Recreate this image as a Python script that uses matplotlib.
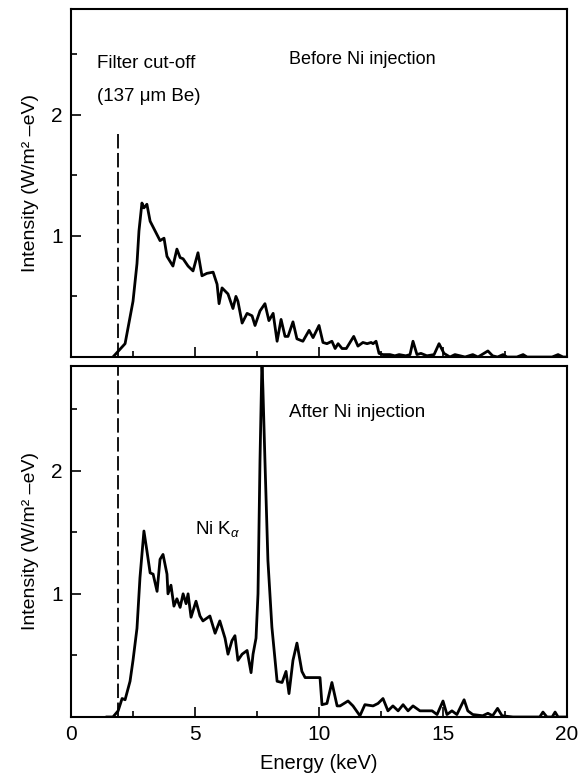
import matplotlib.pyplot as plt
from matplotlib.ticker import MultipleLocator

plt.rcParams['font.family'] = ['Liberation Sans', 'DejaVu Sans']
plt.rcParams['mathtext.fontset'] = 'custom'
plt.rcParams['mathtext.rm'] = 'Liberation Sans'
plt.rcParams['mathtext.it'] = 'Liberation Sans:italic'

# spectrum before Ni injection (keV, W/m^2-eV)
e_before = [1.69, 2.18, 2.5, 2.66, 2.74, 2.86, 2.94, 3.06, 3.19, 3.39, 3.59, 3.75, 3.87, 3.99,
            4.11, 4.27, 4.40, 4.52, 4.72, 4.92, 5.12, 5.28, 5.48, 5.73, 5.89, 5.97, 6.09, 6.33,
            6.53, 6.65, 6.73, 6.90, 7.10, 7.30, 7.42, 7.62, 7.82, 7.98, 8.15, 8.31, 8.47, 8.63,
            8.75, 8.95, 9.11, 9.35, 9.60, 9.76, 10.0, 10.16, 10.32, 10.52, 10.65, 10.77, 10.93,
            11.1, 11.4, 11.57, 11.77, 11.94, 12.1, 12.18, 12.3, 12.42, 12.58, 12.86, 13.06,
            13.23, 13.5, 13.67, 13.79, 13.95, 14.11, 14.35, 14.64, 14.84, 15.04, 15.28, 15.48,
            15.69, 15.89, 16.2, 16.41, 16.81, 17.0, 17.2, 17.42, 17.58, 17.98, 18.23, 18.39,
            19.4, 19.64, 19.84, 20.0]
i_before = [0.0, 0.11, 0.46, 0.77, 1.04, 1.27, 1.23, 1.26, 1.12, 1.04, 0.96, 0.98, 0.83, 0.79,
            0.75, 0.89, 0.82, 0.81, 0.75, 0.71, 0.86, 0.67, 0.69, 0.70, 0.60, 0.44, 0.57, 0.52,
            0.40, 0.50, 0.46, 0.28, 0.36, 0.34, 0.26, 0.38, 0.44, 0.30, 0.36, 0.13, 0.31, 0.17,
            0.17, 0.29, 0.15, 0.13, 0.22, 0.16, 0.26, 0.12, 0.11, 0.13, 0.07, 0.11, 0.07,
            0.07, 0.17, 0.09, 0.12, 0.11, 0.12, 0.11, 0.13, 0.03, 0.02, 0.02, 0.01,
            0.02, 0.01, 0.02, 0.13, 0.02, 0.03, 0.01, 0.02, 0.11, 0.03, 0.0, 0.02,
            0.01, 0.0, 0.02, 0.0, 0.05, 0.01, 0.0, 0.02, 0.0, 0.0, 0.02, 0.0,
            0.0, 0.02, 0.0, 0.0]

# spectrum after Ni injection
e_after = [1.45, 1.69, 1.9, 2.06, 2.18, 2.38, 2.5, 2.66, 2.78, 2.94, 3.06, 3.19, 3.31, 3.47,
           3.59, 3.71, 3.87, 3.91, 4.03, 4.15, 4.27, 4.4, 4.52, 4.64, 4.72, 4.84, 5.04, 5.2,
           5.32, 5.6, 5.81, 6.0, 6.21, 6.33, 6.49, 6.61, 6.73, 6.9, 7.1, 7.26, 7.34, 7.46,
           7.54, 7.62, 7.7, 7.74, 7.82, 7.94, 8.1, 8.31, 8.51, 8.67, 8.79, 8.95, 9.11, 9.31,
           9.44, 9.72, 10.04, 10.12, 10.32, 10.52, 10.73, 10.85, 11.17, 11.37, 11.65, 11.85,
           12.18, 12.38, 12.58, 12.78, 12.98, 13.19, 13.39, 13.59, 13.79, 14.07, 14.35, 14.56,
           14.76, 15.0, 15.16, 15.36, 15.56, 15.85, 16.0, 16.2, 16.6, 16.81, 17.0, 17.2,
           17.38, 17.82, 18.9, 19.03, 19.19, 19.4, 19.52, 19.64, 20.0]
i_after = [0.0, 0.0, 0.05, 0.15, 0.14, 0.29, 0.46, 0.72, 1.13, 1.51, 1.35, 1.17, 1.16, 1.02,
           1.28, 1.32, 1.16, 1.0, 1.07, 0.90, 0.96, 0.89, 1.0, 0.92, 1.0, 0.81, 0.94, 0.82,
           0.78, 0.82, 0.68, 0.78, 0.64, 0.51, 0.62, 0.66, 0.46, 0.51, 0.54, 0.36, 0.51, 0.64,
           1.0, 2.08, 2.9, 2.65, 2.08, 1.27, 0.73, 0.29, 0.28, 0.37, 0.19, 0.46, 0.6, 0.37,
           0.32, 0.32, 0.32, 0.1, 0.11, 0.28, 0.09, 0.09, 0.13, 0.09, 0.01, 0.1,
           0.09, 0.11, 0.15, 0.05, 0.09, 0.05, 0.1, 0.05, 0.09, 0.05, 0.05, 0.05,
           0.02, 0.13, 0.02, 0.05, 0.02, 0.14, 0.05, 0.02, 0.01, 0.03, 0.01, 0.07,
           0.01, 0.0, 0.0, 0.04, 0.0, 0.0, 0.04, 0.0, 0.0]

cutoff_kev = 1.9
cutoff_top = 1.87

fig = plt.figure(figsize=(5.84, 7.79), dpi=100)
ax1 = fig.add_axes([0.1216, 0.5417, 0.8493, 0.4467])
ax2 = fig.add_axes([0.1216, 0.0796, 0.8493, 0.4506])


def style(ax, ymax):
    ax.set_xlim(0, 20)
    ax.set_ylim(0, ymax)
    ax.xaxis.set_major_locator(MultipleLocator(5))
    ax.xaxis.set_minor_locator(MultipleLocator(2.5))
    ax.yaxis.set_major_locator(MultipleLocator(1))
    ax.yaxis.set_minor_locator(MultipleLocator(0.5))
    ax.tick_params(which='both', direction='in', width=1.2, labelsize=15, pad=6)
    ax.tick_params(which='major', length=7)
    ax.tick_params(which='minor', length=4.5)
    ax.set_yticks([1, 2])
    for s in ax.spines.values():
        s.set_linewidth(1.5)
    ax.set_ylabel('Intensity (W/m² –eV)', fontsize=14, labelpad=9)


style(ax1, 2.87)
style(ax2, 2.85)
ax1.tick_params(labelbottom=False)

ax1.plot(e_before, i_before, color='black', lw=2.0)
ax2.plot(e_after, i_after, color='black', lw=2.0)

ax1.plot([cutoff_kev, cutoff_kev], [0, cutoff_top], color='black', lw=1.3, dashes=(8, 2.5))
ax2.axvline(cutoff_kev, color='black', lw=1.3, dashes=(8, 2.5))

ax1.text(1.05, 2.42, 'Filter cut-off', fontsize=13.5, va='center')
ax1.text(1.05, 2.15, '(137 μm Be)', fontsize=13.5, va='center')
ax1.text(8.8, 2.45, 'Before Ni injection', fontsize=13, va='center')
ax2.text(8.8, 2.47, 'After Ni injection', fontsize=13.5, va='center')
ax2.text(5.0, 1.53, 'Ni K$_\\alpha$', fontsize=13.5, va='center')

ax2.set_xlabel('Energy (keV)', fontsize=14.5, labelpad=7)

fig.savefig('out.png', dpi=100)
